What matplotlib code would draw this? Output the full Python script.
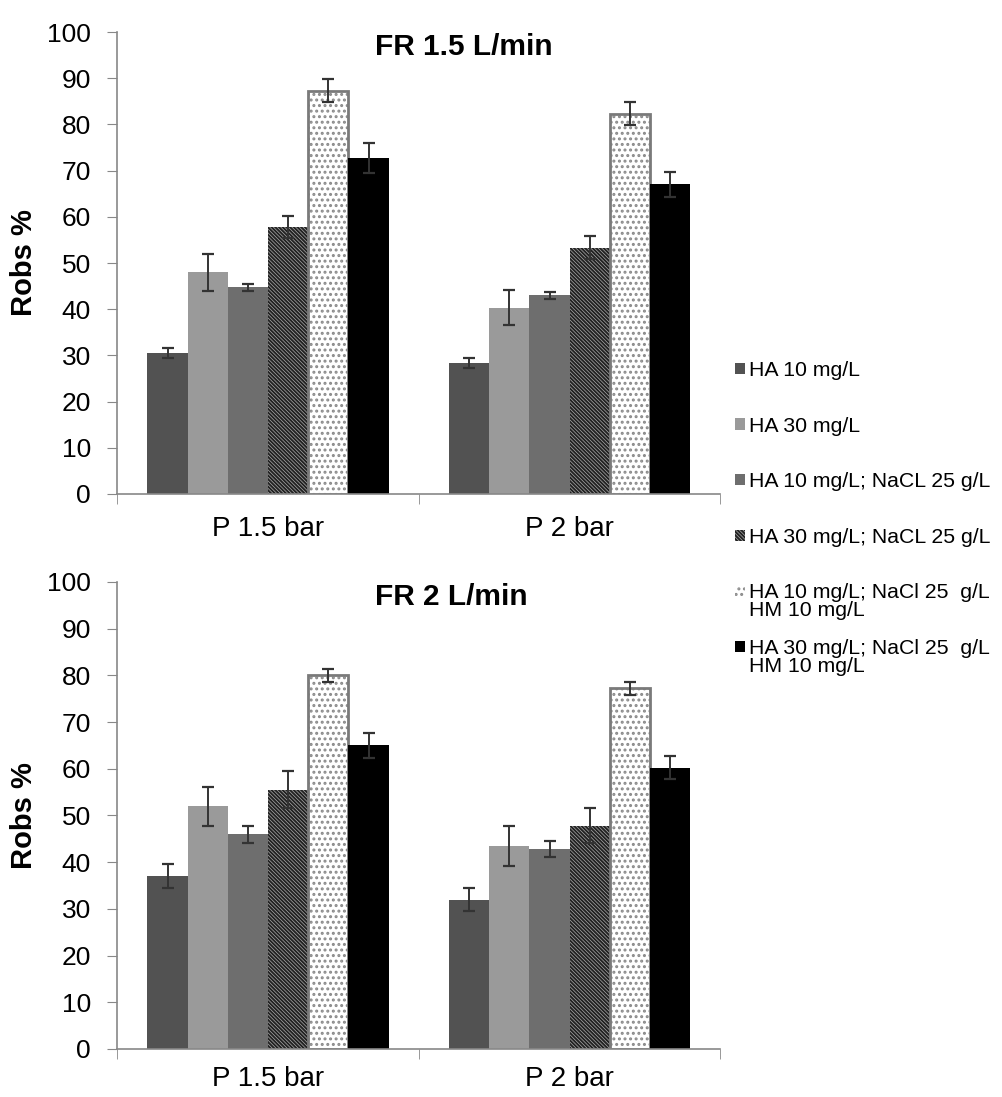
import matplotlib.pyplot as plt
import numpy as np

plt.rcParams['font.family'] = ['Liberation Sans', 'DejaVu Sans']
plt.rcParams['hatch.linewidth'] = 1.4

groups = ["P 1.5 bar", "P 2 bar"]
series = ["HA 10 mg/L", "HA 30 mg/L", "HA 10 mg/L; NaCL 25 g/L",
          "HA 30 mg/L; NaCL 25 g/L",
          "HA 10 mg/L; NaCl 25  g/L\nHM 10 mg/L",
          "HA 30 mg/L; NaCl 25  g/L\nHM 10 mg/L"]

# FR 1.5 L/min, rows = series, cols = groups
fr15_vals = [[30.5, 28.3], [48.0, 40.3], [44.7, 43.0], [57.8, 53.3], [87.3, 82.3], [72.7, 67.0]]
fr15_err = [[1.0, 1.1], [4.0, 3.8], [0.8, 0.7], [2.3, 2.5], [2.5, 2.5], [3.3, 2.8]]
# FR 2 L/min
fr2_vals = [[37.0, 32.0], [52.0, 43.5], [46.0, 42.8], [55.5, 47.8], [80.0, 77.2], [65.0, 60.2]]
fr2_err = [[2.5, 2.5], [4.2, 4.3], [1.8, 1.7], [4.0, 3.7], [1.4, 1.3], [2.6, 2.5]]

styles = [
    dict(color='#525252'),
    dict(color='#9a9a9a'),
    dict(color='#6e6e6e'),
    dict(facecolor='#b0b0b0', edgecolor='#222222', hatch='\\' * 9),
    dict(facecolor='white', edgecolor='#8a8a8a', hatch='...'),
    dict(color='black'),
]

fig = plt.figure(figsize=(10.02, 10.97), dpi=100)
ax1 = fig.add_axes([0.117, 0.5497, 0.602, 0.4211])
ax2 = fig.add_axes([0.117, 0.0438, 0.602, 0.4257])

width = 0.8 / 6
x = np.arange(len(groups))
handles = []
for ax, vals, errs, title, xpad in [(ax1, fr15_vals, fr15_err, "FR 1.5 L/min", 16),
                                    (ax2, fr2_vals, fr2_err, "FR 2 L/min", 12)]:
    for i in range(6):
        pos = x - 0.4 + width * (i + 0.5)
        b = ax.bar(pos, vals[i], width, linewidth=0, **styles[i])
        if i == 4:
            ax.bar(pos, vals[i], width, fill=False, edgecolor='#7a7a7a', linewidth=2)
        ax.errorbar(pos, vals[i], yerr=errs[i], fmt='none', ecolor='#333333',
                    elinewidth=1.4, capsize=4, capthick=1.6)
        if ax is ax1:
            handles.append(b)
    ax.set_xlim(-0.5, 1.5)
    ax.set_ylim(0, 100)
    ax.set_yticks(range(0, 101, 10))
    ax.set_xticks(x)
    ax.set_xticklabels(groups)
    ax.set_xticks([-0.5, 0.5, 1.5], minor=True)
    ax.tick_params(axis='x', which='major', length=0, labelsize=20, pad=xpad)
    ax.tick_params(axis='x', which='minor', length=7, color='#888888')
    ax.tick_params(axis='y', length=7, color='#888888', labelsize=19, pad=12)
    for s in ['top', 'right']:
        ax.spines[s].set_visible(False)
    for s in ['left', 'bottom']:
        ax.spines[s].set_color('#888888')
        ax.spines[s].set_linewidth(1.2)
    ax.set_ylabel("Robs %", fontsize=21, fontweight='bold')
    ax.yaxis.set_label_coords(-0.131, 0.5)
    ax.text(0.356, 95.0, title, fontsize=21.5, fontweight='bold',
            ha='left', va='baseline')

first_lines = [s.split("\n")[0] for s in series]
leg = fig.legend(handles=handles, labels=first_lines, loc='upper left',
                 bbox_to_anchor=(0.725, 0.6785), frameon=False, fontsize=15.3,
                 handlelength=0.45, handleheight=0.45, handletextpad=0.2,
                 labelspacing=1.72, borderaxespad=0)

# second lines of the two-line legend labels, placed under the first line
fig.canvas.draw()
r = fig.canvas.get_renderer()
for txt, full in zip(leg.get_texts(), series):
    parts = full.split("\n")
    if len(parts) > 1:
        bb = txt.get_window_extent(r)
        fig.text(bb.x0 / fig.bbox.width, (bb.y0 - 18) / fig.bbox.height,
                 parts[1], fontsize=15.3, ha='left', va='bottom')

fig.savefig("out.png", dpi=100)
